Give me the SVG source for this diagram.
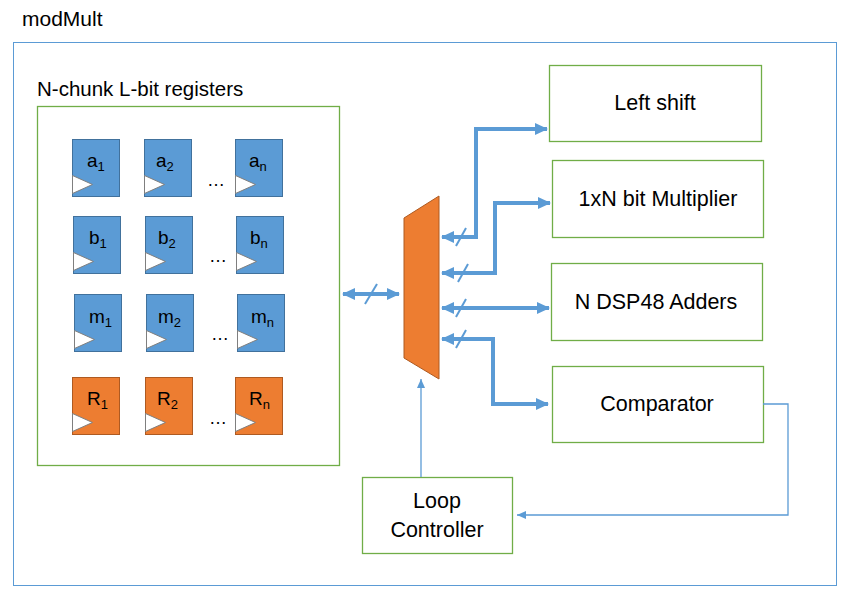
<svg xmlns="http://www.w3.org/2000/svg" width="851" height="601" viewBox="0 0 851 601">
<defs>
<marker id="ah" markerUnits="userSpaceOnUse" markerWidth="14" markerHeight="14" refX="12" refY="7" orient="auto-start-reverse" viewBox="0 0 14 14">
<path d="M0,1 L13,7 L0,13 Z" fill="#5B9BD5"/>
</marker>
<marker id="ahs" markerUnits="userSpaceOnUse" markerWidth="10" markerHeight="10" refX="9" refY="5" orient="auto" viewBox="0 0 10 10">
<path d="M0,1 L9,5 L0,9 Z" fill="#5B9BD5"/>
</marker>
<path id="clk" d="M0,0 L20,9 L0,18 Z"/>
</defs>
<style>
text{font-family:"Liberation Sans",Arial,sans-serif;fill:#000;}
.frame{fill:#fff;stroke:#5B9BD5;stroke-width:1;}
.gbox{fill:#fff;stroke:#70AD47;stroke-width:1.3;}
.blue{fill:#5B9BD5;stroke:#41719C;stroke-width:1;}
.orng{fill:#ED7D31;stroke:#AE5A21;stroke-width:1;}
.clk{fill:#fff;stroke:#7F7F7F;stroke-width:1;}
.bus{fill:none;stroke:#5B9BD5;stroke-width:4;marker-start:url(#ah);marker-end:url(#ah);}
.thin{fill:none;stroke:#5B9BD5;stroke-width:1.3;marker-end:url(#ahs);}
.slash{stroke:#5B9BD5;stroke-width:2;}
.lbl{font-size:21.5px;text-anchor:middle;}
.reg{font-size:19px;}
.sub{font-size:13px;}
.dots{font-size:18px;}
</style>
<rect width="851" height="601" fill="#fff"/>
<text x="22" y="26" style="font-size:21px">modMult</text>
<rect class="frame" x="13.5" y="42.5" width="823" height="543"/>
<g id="registers">
<rect class="gbox" x="37.5" y="106.5" width="302" height="359"/>
<text x="37" y="96" style="font-size:20.5px">N-chunk L-bit registers</text>
<g id="reg-a1"><rect class="blue" x="72.5" y="139.5" width="47" height="57"/><use href="#clk" class="clk" x="72.5" y="175.5"/><text class="reg" x="87" y="167">a<tspan class="sub" dy="4">1</tspan></text></g>
<g id="reg-a2"><rect class="blue" x="144.5" y="139.5" width="47" height="57"/><use href="#clk" class="clk" x="144.5" y="175.5"/><text class="reg" x="156" y="167">a<tspan class="sub" dy="4">2</tspan></text></g>
<g id="reg-an"><rect class="blue" x="235.5" y="139.5" width="47" height="57"/><use href="#clk" class="clk" x="235.5" y="175.5"/><text class="reg" x="249" y="167">a<tspan class="sub" dy="4">n</tspan></text></g>
<text class="dots" x="207" y="186">…</text>
<g id="reg-b1"><rect class="blue" x="73.5" y="216.5" width="47" height="57"/><use href="#clk" class="clk" x="73.5" y="252.5"/><text class="reg" x="89" y="244">b<tspan class="sub" dy="4">1</tspan></text></g>
<g id="reg-b2"><rect class="blue" x="145.5" y="216.5" width="47" height="57"/><use href="#clk" class="clk" x="145.5" y="252.5"/><text class="reg" x="158" y="244">b<tspan class="sub" dy="4">2</tspan></text></g>
<g id="reg-bn"><rect class="blue" x="236.5" y="216.5" width="47" height="57"/><use href="#clk" class="clk" x="236.5" y="252.5"/><text class="reg" x="250" y="244">b<tspan class="sub" dy="4">n</tspan></text></g>
<text class="dots" x="209" y="262">…</text>
<g id="reg-m1"><rect class="blue" x="74.5" y="294.5" width="47" height="57"/><use href="#clk" class="clk" x="74.5" y="330.5"/><text class="reg" x="89" y="323">m<tspan class="sub" dy="4">1</tspan></text></g>
<g id="reg-m2"><rect class="blue" x="146.5" y="294.5" width="47" height="57"/><use href="#clk" class="clk" x="146.5" y="330.5"/><text class="reg" x="158" y="323">m<tspan class="sub" dy="4">2</tspan></text></g>
<g id="reg-mn"><rect class="blue" x="237.5" y="294.5" width="47" height="57"/><use href="#clk" class="clk" x="237.5" y="330.5"/><text class="reg" x="251" y="323">m<tspan class="sub" dy="4">n</tspan></text></g>
<text class="dots" x="211" y="340">…</text>
<g id="reg-R1"><rect class="orng" x="72.5" y="377.5" width="47" height="57"/><use href="#clk" class="clk" x="72.5" y="413.5"/><text class="reg" x="87" y="405">R<tspan class="sub" dy="4">1</tspan></text></g>
<g id="reg-R2"><rect class="orng" x="145.5" y="377.5" width="47" height="57"/><use href="#clk" class="clk" x="145.5" y="413.5"/><text class="reg" x="157" y="405">R<tspan class="sub" dy="4">2</tspan></text></g>
<g id="reg-Rn"><rect class="orng" x="235.5" y="377.5" width="47" height="57"/><use href="#clk" class="clk" x="235.5" y="413.5"/><text class="reg" x="249" y="405">R<tspan class="sub" dy="4">n</tspan></text></g>
<text class="dots" x="209" y="424">…</text>
</g>
<g id="mux"><path class="orng" d="M404,218 L439,196 L439,379 L404,358 Z"/></g>
<g id="left-shift"><rect class="gbox" x="549.5" y="65.5" width="212" height="76"/><text class="lbl" x="655" y="110">Left shift</text></g>
<g id="multiplier"><rect class="gbox" x="552.5" y="160.5" width="211" height="77"/><text class="lbl" x="658" y="206">1xN bit Multiplier</text></g>
<g id="adders"><rect class="gbox" x="551.5" y="263.5" width="211" height="77"/><text class="lbl" x="656" y="309">N DSP48 Adders</text></g>
<g id="comparator"><rect class="gbox" x="552.5" y="366.5" width="211" height="76"/><text class="lbl" x="657" y="411">Comparator</text></g>
<g id="loop-controller"><rect class="gbox" x="362.5" y="477.5" width="150" height="76"/><text class="lbl" x="437" y="508">Loop</text><text class="lbl" x="437" y="537">Controller</text></g>
<g id="connectors">
<path class="bus" d="M343,294 L399,294"/>
<path class="bus" d="M442,237 L476,237 L476,129 L547,129"/>
<path class="bus" d="M442,273 L495,273 L495,203 L550,203"/>
<path class="bus" d="M442,308 L549,308"/>
<path class="bus" d="M442,339 L493,339 L493,404 L548,404"/>
<line class="slash" x1="365" y1="304" x2="377" y2="284"/>
<line class="slash" x1="456" y1="246" x2="466" y2="228"/>
<line class="slash" x1="458" y1="282" x2="468" y2="264"/>
<line class="slash" x1="456" y1="317" x2="466" y2="299"/>
<line class="slash" x1="456" y1="348" x2="466" y2="330"/>
<path class="thin" d="M421,477 L421,379"/>
<path class="thin" d="M763,404 L788,404 L788,515 L517,515"/>
</g>
</svg>
